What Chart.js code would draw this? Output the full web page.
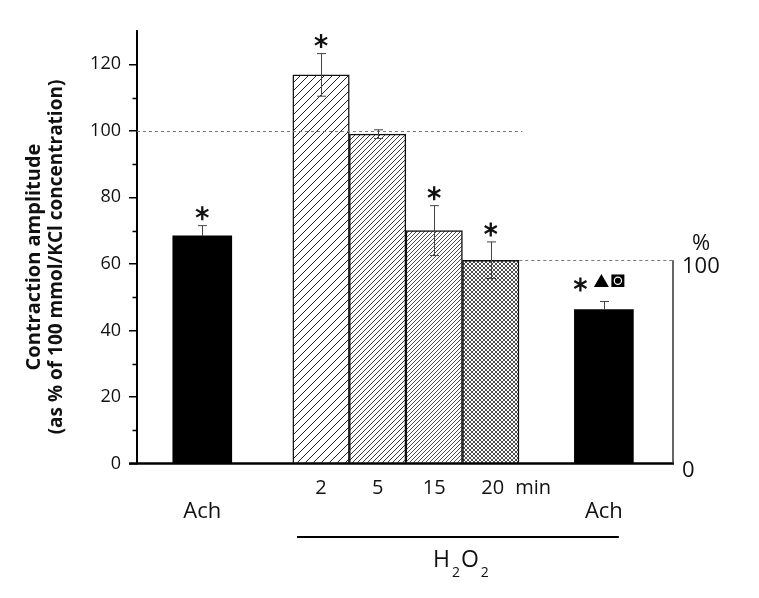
<!DOCTYPE html>
<html>
<head>
<meta charset="utf-8">
<script src="https://cdn.jsdelivr.net/npm/chart.js@4.4.1/dist/chart.umd.min.js"></script>
<style>
  html, body { margin: 0; padding: 0; background: #fff; }
  #wrap { width: 759px; height: 598px; position: relative; }
</style>
</head>
<body>
<div id="wrap"><canvas id="c"></canvas></div>
<script>
// ---- data ----
const achLabels = ['Ach', 'Ach'];
const achPos = [0, 7.1];
const achValues = [68.4, 46.3];
const achErr = [3.1, 2.4];

const h2o2Labels = ['2', '5', '15', '20'];
const h2o2Pos = [2.1, 3.1, 4.1, 5.1];
const h2o2Values = [116.8, 99.0, 70.0, 61.1];
const h2o2Err = [6.4, 1.3, 7.5, 5.5];
const h2o2Star = [true, false, true, true];

const yTicks = [0, 20, 40, 60, 80, 100, 120];
const yMinorTicks = [10, 30, 50, 70, 90, 110];
const pctTicks = [0, 100];
const refValue = h2o2Values[3];   // 100 % on the right-hand axis

const FONT = "'Open Sans', 'Noto Sans', sans-serif";
const INK = '#111';

// hatch fills for the H2O2 bars
function hatch(size, lw, cross) {
  const c = document.createElement('canvas');
  c.width = c.height = size;
  const g = c.getContext('2d');
  g.fillStyle = '#fff';
  g.fillRect(0, 0, size, size);
  g.strokeStyle = '#222';
  g.lineWidth = lw;
  g.beginPath();
  g.moveTo(0, size); g.lineTo(size, 0);
  g.moveTo(-1, 1); g.lineTo(1, -1);
  g.moveTo(size - 1, size + 1); g.lineTo(size + 1, size - 1);
  if (cross) {
    g.moveTo(0, 0); g.lineTo(size, size);
    g.moveTo(size - 1, -1); g.lineTo(size + 1, 1);
    g.moveTo(-1, size - 1); g.lineTo(1, size + 1);
  }
  g.stroke();
  return g.createPattern(c, 'repeat');
}
const h2o2Fills = [hatch(8, 1, false), hatch(5, 0.9, false), hatch(4, 0.8, false), hatch(4, 0.8, true)];

function asterisk(ctx, x, y, r) {
  ctx.save();
  ctx.strokeStyle = INK;
  ctx.lineWidth = 2.3;
  ctx.beginPath();
  for (const a of [90, 30, 150]) {
    const t = a * Math.PI / 180;
    ctx.moveTo(x - r * Math.cos(t), y - r * Math.sin(t));
    ctx.lineTo(x + r * Math.cos(t), y + r * Math.sin(t));
  }
  ctx.stroke();
  ctx.restore();
}

function errorBar(ctx, xs, ys, pos, val, err, lower) {
  const cx = Math.round(xs.getPixelForValue(pos)) + 0.5;
  const top = ys.getPixelForValue(val + err);
  const bot = lower ? ys.getPixelForValue(val - err) : ys.getPixelForValue(val);
  ctx.beginPath();
  ctx.moveTo(cx, top); ctx.lineTo(cx, bot);
  ctx.moveTo(cx - 4.5, top); ctx.lineTo(cx + 4.5, top);
  if (lower) { ctx.moveTo(cx - 4.5, bot); ctx.lineTo(cx + 4.5, bot); }
  ctx.stroke();
  return top;
}

const decor = {
  id: 'decor',
  afterDatasetsDraw(chart) {
    const { ctx, chartArea: a } = chart;
    const xs = chart.scales.x, ys = chart.scales.y, y2 = chart.scales.y2;
    const barEdge = xs.getPixelForValue(h2o2Pos[3]) + 28.5;

    // reference lines (100 % of KCl, and 100 % of the 20 min response)
    ctx.save();
    ctx.strokeStyle = '#777';
    ctx.lineWidth = 1;
    ctx.setLineDash([3, 3]);
    ctx.beginPath();
    const y100 = Math.round(ys.getPixelForValue(100)) + 0.5;
    ctx.moveTo(a.left, y100); ctx.lineTo(barEdge + 3, y100);
    const yr = Math.round(y2.getPixelForValue(100)) + 0.5;
    ctx.moveTo(barEdge, yr); ctx.lineTo(a.right, yr);
    ctx.stroke();
    ctx.restore();

    // error bars + significance marks
    ctx.save();
    ctx.strokeStyle = '#444';
    ctx.lineWidth = 1;
    h2o2Values.forEach((v, i) => {
      const top = errorBar(ctx, xs, ys, h2o2Pos[i], v, h2o2Err[i], true);
      if (h2o2Star[i]) asterisk(ctx, xs.getPixelForValue(h2o2Pos[i]), top - 12.5, 7);
    });
    achValues.forEach((v, i) => {
      const top = errorBar(ctx, xs, ys, achPos[i], v, achErr[i], false);
      const cx = xs.getPixelForValue(achPos[i]);
      if (i === 0) {
        asterisk(ctx, cx, top - 12.5, 7);
      } else {
        const sy = top - 17;
        asterisk(ctx, cx - 23.5, sy, 7);
        ctx.fillStyle = '#000';
        ctx.beginPath();
        ctx.moveTo(cx - 2.5, sy - 10.5);
        ctx.lineTo(cx + 5, sy + 2.5);
        ctx.lineTo(cx - 10, sy + 2.5);
        ctx.closePath();
        ctx.fill();
        ctx.fillRect(cx + 7.5, sy - 10, 13, 12.5);
        ctx.strokeStyle = '#fff';
        ctx.lineWidth = 1.2;
        ctx.beginPath();
        ctx.arc(cx + 14, sy - 3.7, 3.6, 0, Math.PI * 2);
        ctx.stroke();
      }
    });
    ctx.restore();

    // baseline, right axis, minor ticks
    ctx.save();
    ctx.strokeStyle = '#000';
    ctx.lineWidth = 2.5;
    ctx.beginPath();
    const y0 = ys.getPixelForValue(0);
    ctx.moveTo(a.left - 8, y0); ctx.lineTo(a.right + 1, y0);
    ctx.stroke();
    ctx.strokeStyle = '#333';
    ctx.lineWidth = 1.5;
    ctx.beginPath();
    ctx.moveTo(a.right, y2.getPixelForValue(0)); ctx.lineTo(a.right, y2.getPixelForValue(100));
    ctx.stroke();
    ctx.strokeStyle = '#000';
    ctx.lineWidth = 1.5;
    ctx.beginPath();
    yMinorTicks.forEach(v => {
      const py = Math.round(ys.getPixelForValue(v)) + 0.5;
      ctx.moveTo(a.left - 4.5, py); ctx.lineTo(a.left, py);
    });
    ctx.stroke();
    ctx.restore();
  },
  afterDraw(chart) {
    const { ctx } = chart;
    const xs = chart.scales.x;
    ctx.save();
    ctx.fillStyle = INK;
    ctx.textBaseline = 'middle';
    ctx.textAlign = 'center';

    // time labels
    ctx.font = '20px ' + FONT;
    h2o2Labels.forEach((t, i) => ctx.fillText(t, xs.getPixelForValue(h2o2Pos[i]) + (i === 3 ? 2 : 0), 488));
    const w20 = ctx.measureText(h2o2Labels[3]).width;
    ctx.textAlign = 'left';
    ctx.fillText('min', xs.getPixelForValue(h2o2Pos[3]) + 2 + w20 / 2 + 11, 488);

    // Ach labels
    ctx.textAlign = 'center';
    ctx.font = '22px ' + FONT;
    achLabels.forEach((t, i) => ctx.fillText(t, xs.getPixelForValue(achPos[i]), 512));

    // H2O2 bracket
    ctx.strokeStyle = '#000';
    ctx.lineWidth = 2;
    ctx.beginPath();
    ctx.moveTo(xs.getPixelForValue(h2o2Pos[0]) - 24, 537);
    ctx.lineTo(xs.getPixelForValue(achPos[1]) + 15, 537);
    ctx.stroke();

    ctx.textAlign = 'left';
    ctx.textBaseline = 'alphabetic';
    let x = 433;
    const big = '23px ' + FONT, small = '14px ' + FONT;
    [['H', big, 567], ['2', small, 577], ['O', big, 567], ['2', small, 577]].forEach(([t, f, by], i) => {
      ctx.font = f;
      ctx.fillText(t, x, by);
      x += ctx.measureText(t).width + (i % 2 === 0 ? 2 : 1);
    });

    // percent sign on the right axis
    ctx.textAlign = 'center';
    ctx.textBaseline = 'middle';
    ctx.font = '22px ' + FONT;
    ctx.fillText('%', 701, 244);

    // y axis title
    ctx.translate(34, 257);
    ctx.rotate(-Math.PI / 2);
    ctx.font = 'bold 20px ' + FONT;
    ctx.fillText('Contraction amplitude', 0, 0);
    ctx.font = 'bold 19px ' + FONT;
    ctx.fillText('(as % of 100 mmol/KCl concentration)', 0, 23);
    ctx.restore();
  }
};

new Chart(document.getElementById('c'), {
  type: 'bar',
  data: {
    datasets: [
      {
        label: 'Ach',
        data: achPos.map((p, i) => ({ x: p, y: achValues[i] })),
        backgroundColor: '#000',
        borderColor: '#000',
        borderWidth: 0,
        barThickness: 59,
        grouped: false
      },
      {
        label: 'H2O2',
        data: h2o2Pos.map((p, i) => ({ x: p, y: h2o2Values[i] })),
        backgroundColor: h2o2Fills,
        borderColor: '#111',
        borderWidth: 1.5,
        barThickness: 56.5,
        grouped: false
      }
    ]
  },
  options: {
    responsive: true,
    maintainAspectRatio: false,
    animation: false,
    layout: { padding: { top: 31, left: 0, right: 0, bottom: 0 } },
    plugins: { legend: { display: false }, tooltip: { enabled: false } },
    scales: {
      x: {
        type: 'linear',
        min: -1.154,
        max: 8.322,
        offset: false,
        grid: { display: false },
        border: { display: false },
        ticks: { display: false },
        afterFit(s) { s.height = 134.5; }
      },
      y: {
        position: 'left',
        min: 0,
        max: 130,
        afterBuildTicks(s) { s.ticks = yTicks.map(v => ({ value: v })); },
        grid: { display: true, drawOnChartArea: false, drawTicks: true, tickLength: 8, color: '#000', lineWidth: 1.5 },
        border: { display: true, color: '#000', width: 2 },
        ticks: { color: INK, font: { family: FONT, size: 18 }, padding: 8 },
        afterFit(s) { s.width = 137; }
      },
      y2: {
        position: 'right',
        min: 0,
        max: 130 * 100 / refValue,
        afterBuildTicks(s) { s.ticks = pctTicks.map(v => ({ value: v })); },
        grid: { display: false, drawTicks: false },
        border: { display: false },
        ticks: { color: INK, font: { family: FONT, size: 22 }, padding: 9, labelOffset: 7 },
        afterFit(s) { s.width = 86; }
      }
    }
  },
  plugins: [decor]
});
</script>
</body>
</html>
